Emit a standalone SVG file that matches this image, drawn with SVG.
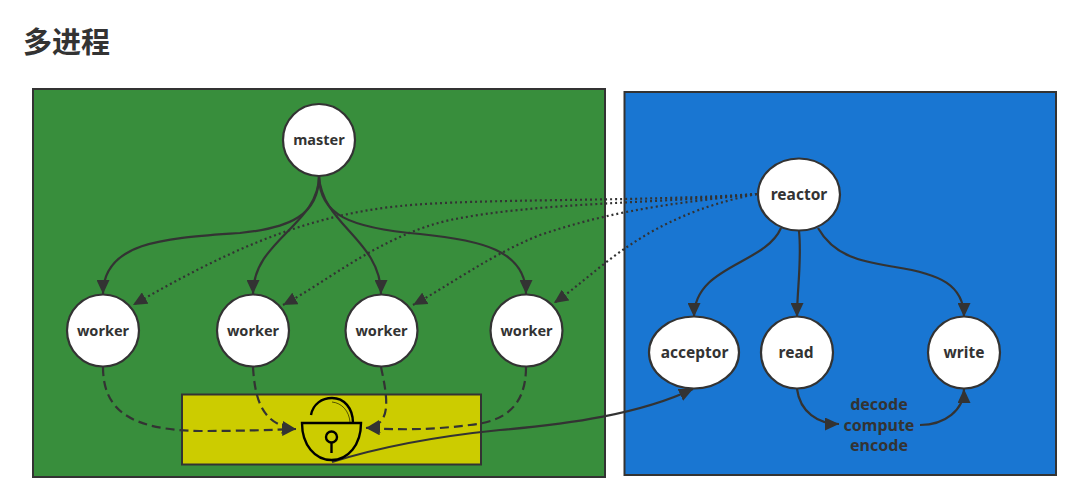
<svg xmlns="http://www.w3.org/2000/svg" width="1067" height="491" viewBox="0 0 1067 491">
<style>
  .title { font: 700 29px "Noto Sans CJK SC", sans-serif; fill: #333; }
  .area { stroke: #333; stroke-width: 2; }
  .node { fill: #fff; stroke: #333; stroke-width: 2.2; }
  .name { font: 700 14.500px "Noto Sans", sans-serif; fill: #333; text-anchor: middle; }
  .name.big { font-size: 15.500px; }
  .step { font: 700 16px "Noto Sans", sans-serif; fill: #333; text-anchor: middle; }
  .link { fill: none; stroke: #333; stroke-width: 2.2; marker-end: url(#head); }
  .dash { stroke-dasharray: 9 5; }
  .dot { stroke-dasharray: 2 3; }
  .lock { fill: none; stroke: #000; stroke-width: 2.400; }
</style>
<defs>
  <marker id="head" markerUnits="userSpaceOnUse" markerWidth="15" markerHeight="13" refX="14" refY="6.500" orient="auto">
    <path d="M0 0L14 6.500L0 13z" fill="#333"/>
  </marker>
</defs>
<rect width="1067" height="491" fill="#fff"/>
<text class="title" x="23" y="53">多进程</text>

<g id="process-area">
  <rect class="area" x="33" y="89" width="572" height="388" fill="#388E3C"/>
  <rect class="area" x="182" y="394.500" width="299" height="70" fill="#CCCC00"/>
</g>
<g id="thread-area">
  <rect class="area" x="624.500" y="92" width="431.500" height="383" fill="#1976D2"/>
</g>

<g id="connectors">
  <path class="link" d="M319 176C319 215 290 228 240 233C170 238 103 240 103 294"/>
  <path class="link" d="M319 176C319 225 253 240 253 294"/>
  <path class="link" d="M319 176C322 225 381 240 381 294"/>
  <path class="link" d="M319 176C319 215 350 228 420 234C480 240 526 250 526 294"/>

  <path class="link dot" d="M757 194C640 202 480 198 400 206C300 216 220 255 133 305"/>
  <path class="link dot" d="M757 194C650 204 540 202 450 220C380 236 330 280 283 305"/>
  <path class="link dot" d="M757 194C650 205 600 215 540 235C490 255 450 285 413 305"/>
  <path class="link dot" d="M757 194C700 205 660 225 630 245C600 265 580 285 554 303"/>

  <path class="link dash" d="M103 367C103 410 130 430 200 431C240 431 270 430 296 429"/>
  <path class="link dash" d="M253 367C255 400 262 425 296 429"/>
  <path class="link dash" d="M381 367C388 400 392 425 366 428"/>
  <path class="link dash" d="M526 367C526 410 500 422 470 425C430 430 400 430 366 428"/>

  <path class="link" d="M332 462C380 447 440 436 500 430C570 424 640 414 693 389"/>

  <path class="link" d="M781 228C765 265 694 265 694 317"/>
  <path class="link" d="M799 231C802 260 797 290 797 317"/>
  <path class="link" d="M818 228C835 258 865 262 895 267C940 274 964 285 964 317"/>
  <path class="link" d="M797 389C800 412 818 424 839 424"/>
  <path class="link" d="M920 425C945 425 964 410 964 389"/>
</g>

<g id="master"><circle class="node" cx="319" cy="140" r="36"/><text class="name" x="319" y="145">master</text></g>
<g id="worker-1"><circle class="node" cx="103" cy="330.500" r="36"/><text class="name" x="103" y="336">worker</text></g>
<g id="worker-2"><circle class="node" cx="253" cy="330.500" r="36"/><text class="name" x="253" y="336">worker</text></g>
<g id="worker-3"><circle class="node" cx="381.500" cy="330.500" r="36"/><text class="name" x="381.500" y="336">worker</text></g>
<g id="worker-4"><circle class="node" cx="526.500" cy="330.500" r="36"/><text class="name" x="526.500" y="336">worker</text></g>
<g id="reactor"><ellipse class="node" cx="799" cy="194.500" rx="41" ry="36"/><text class="name big" x="799" y="200">reactor</text></g>
<g id="acceptor"><ellipse class="node" cx="694" cy="352.500" rx="45" ry="36"/><text class="name big" x="694.500" y="358">acceptor</text></g>
<g id="read"><circle class="node" cx="797" cy="352.500" r="36"/><text class="name big" x="796" y="358">read</text></g>
<g id="write"><circle class="node" cx="964" cy="352.500" r="36"/><text class="name big" x="964" y="358">write</text></g>

<g id="steps">
  <text class="step" x="879" y="410">decode</text>
  <text class="step" x="879" y="431">compute</text>
  <text class="step" x="879" y="451">encode</text>
</g>

<g id="lock">
  <path class="lock" d="M302 423H361C361 445 348 460 331.500 460C315 460 302 445 302 423Z"/>
  <path class="lock" d="M311 415C313 404 322 398 332 398C344 398 353 408 353 423"/>
  <path d="M332 402C342 403 349 411 350 422" fill="none" stroke="#000" stroke-width="0.600"/>
  <circle class="lock" cx="331.500" cy="437" r="5.500"/>
  <path class="lock" d="M331.500 442.500V453"/>
</g>
</svg>
